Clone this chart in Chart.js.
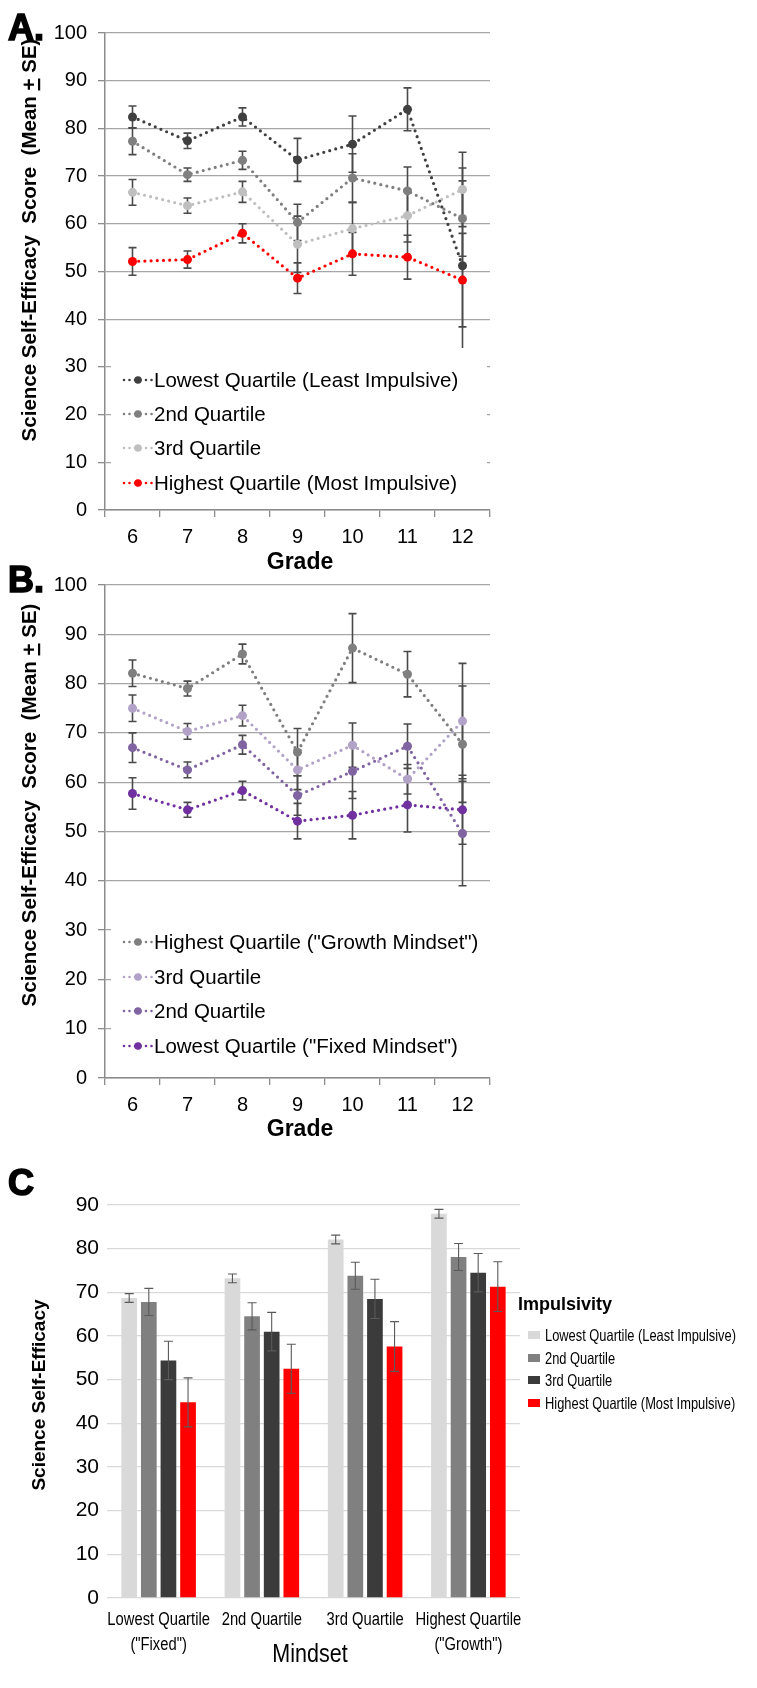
<!DOCTYPE html>
<html>
<head>
<meta charset="utf-8">
<script src="https://cdn.jsdelivr.net/npm/chart.js@4.4.1/dist/chart.umd.min.js"></script>
<style>
  body { margin: 0; background: #fff; width: 757px; height: 1688px; overflow: hidden; }
  .panel { position: absolute; left: 0; }
</style>
</head>
<body>
<div class="panel" style="top:0px"><canvas id="chartA" width="757" height="580"></canvas></div>
<div class="panel" style="top:550px"><canvas id="chartB" width="757" height="600"></canvas></div>
<div class="panel" style="top:1140px"><canvas id="chartC" width="757" height="548"></canvas></div>
<script>
// ---- data ----
const grades = ['6', '7', '8', '9', '10', '11', '12'];

// A: science self-efficacy by impulsivity quartile
const impulsLabels = ['Lowest Quartile (Least Impulsive)', '2nd Quartile', '3rd Quartile', 'Highest Quartile (Most Impulsive)'];
const impulsLowest = [82.4, 77.4, 82.4, 73.4, 76.7, 84.0, 51.2];
const impulsLowestSE = [2.3, 1.6, 1.9, 4.5, 5.9, 4.5, 20.5];
const impuls2nd = [77.3, 70.3, 73.3, 60.3, 69.6, 66.9, 61.1];
const impuls2ndSE = [2.8, 1.4, 1.9, 3.8, 5.1, 5.0, 7.9];
const impuls3rd = [66.6, 63.8, 66.7, 55.7, 59.0, 61.7, 67.2];
const impuls3rdSE = [2.7, 1.6, 2.2, 5.9, 5.5, 5.5, 7.8];
const impulsHighest = [52.1, 52.5, 58.0, 48.6, 53.7, 53.0, 48.2];
const impulsHighestSE = [2.9, 1.8, 2.0, 3.2, 4.5, 4.6, 9.8];

// B: science self-efficacy by mindset quartile
const mindsetLabels = ['Highest Quartile ("Growth Mindset")', '3rd Quartile', '2nd Quartile', 'Lowest Quartile ("Fixed Mindset")'];
const mindHighest = [82.1, 79.0, 86.0, 66.1, 87.2, 81.9, 67.7];
const mindHighestSE = [2.7, 1.5, 2.0, 4.8, 7.0, 4.6, 11.8];
const mind3rd = [75.0, 70.3, 73.5, 62.5, 67.5, 60.6, 72.4];
const mind3rdSE = [2.7, 1.6, 2.1, 4.0, 4.5, 3.0, 11.7];
const mind2nd = [67.0, 62.5, 67.6, 57.3, 62.2, 67.3, 49.6];
const mind2ndSE = [3.0, 1.6, 1.9, 4.0, 5.5, 4.5, 10.6];
const mindLowest = [57.7, 54.4, 58.3, 52.1, 53.3, 55.4, 54.4];
const mindLowestSE = [3.2, 1.5, 1.9, 3.6, 4.8, 5.5, 7.0];

// C: mindset group x impulsivity quartile
const mindsetGroups = [['Lowest Quartile', '("Fixed")'], '2nd Quartile', '3rd Quartile', ['Highest Quartile', '("Growth")']];
const barLowest = [68.7, 73.2, 82.1, 88.0];
const barLowestSE = [1.0, 1.0, 1.0, 1.0];
const bar2nd = [67.8, 64.5, 73.8, 78.1];
const bar2ndSE = [3.1, 3.1, 3.1, 3.1];
const bar3rd = [54.4, 61.0, 68.5, 74.5];
const bar3rdSE = [4.4, 4.4, 4.5, 4.4];
const barHighest = [44.8, 52.5, 57.6, 71.3];
const barHighestSE = [5.6, 5.6, 5.7, 5.7];

const greyLines = ['#404040', '#7f7f7f', '#bfbfbf', '#ff0000'];
const purpleLines = ['#7f7f7f', '#b3a2c7', '#8064a2', '#7030a0'];
const barColours = ['#d9d9d9', '#808080', '#3b3b3b', '#ff0000'];

const SANS = "'Liberation Sans', Arial, sans-serif";
const Y_TITLE = 'Science Self-Efficacy  Score  (Mean + SE)';

// ---- helpers ----
function drawErrors(chart, opts) {
    const ctx = chart.ctx;
    const y = chart.scales.y;
    ctx.save();
    ctx.strokeStyle = opts.color;
    ctx.lineWidth = opts.width;
    chart.data.datasets.forEach((ds, i) => {
        const se = opts.errors[i];
        chart.getDatasetMeta(i).data.forEach((el, j) => {
            const x = el.x;
            const top = y.getPixelForValue(ds.data[j] + se[j]);
            const bot = y.getPixelForValue(ds.data[j] - se[j]);
            ctx.beginPath();
            ctx.moveTo(x, top); ctx.lineTo(x, bot);
            ctx.moveTo(x - opts.cap, top); ctx.lineTo(x + opts.cap, top);
            ctx.moveTo(x - opts.cap, bot); ctx.lineTo(x + opts.cap, bot);
            ctx.stroke();
        });
    });
    ctx.restore();
}

const errorBarPlugin = {
    id: 'errbars',
    beforeDatasetsDraw(chart, args, opts) { if (!opts.onTop) drawErrors(chart, opts); },
    afterDatasetsDraw(chart, args, opts) { if (opts.onTop) drawErrors(chart, opts); }
};

function drawLetter(ctx, letter, x, y) {
    ctx.save();
    ctx.font = `bold 36px ${SANS}`;
    ctx.fillStyle = '#000';
    ctx.strokeStyle = '#000';
    ctx.lineWidth = 1.6;
    ctx.fillText(letter, x, y);
    ctx.strokeText(letter, x, y);
    ctx.restore();
}

// rotated axis title, optional underline under one character (the "+" of ±)
function drawYTitle(ctx, text, cx, cy, font, underlineChar) {
    ctx.save();
    ctx.translate(cx, cy);
    ctx.rotate(-Math.PI / 2);
    ctx.font = font;
    ctx.fillStyle = '#000';
    ctx.textAlign = 'left';
    ctx.textBaseline = 'middle';
    const w = ctx.measureText(text).width;
    ctx.fillText(text, -w / 2, 0);
    if (underlineChar) {
        const idx = text.indexOf(underlineChar);
        const x0 = -w / 2 + ctx.measureText(text.slice(0, idx)).width;
        const cw = ctx.measureText(underlineChar).width;
        ctx.fillRect(x0, 8, cw, 2.2);
    }
    ctx.restore();
}

// text with optional horizontal squeeze (stands in for a narrow face)
function drawText(ctx, text, x, y, font, squeeze, align) {
    ctx.save();
    ctx.translate(x, y);
    ctx.scale(squeeze, 1);
    ctx.font = font;
    ctx.fillStyle = '#000';
    ctx.textAlign = align;
    ctx.textBaseline = 'middle';
    ctx.fillText(text, 0, 0);
    ctx.restore();
}

function drawLineLegend(chart, box, rows, labels) {
    const ctx = chart.ctx;
    ctx.save();
    ctx.fillStyle = '#fff';
    ctx.fillRect(box[0], box[1], box[2] - box[0], box[3] - box[1]);
    chart.data.datasets.forEach((ds, i) => {
        const yy = rows[i];
        ctx.strokeStyle = ds.borderColor;
        ctx.lineWidth = 2.6;
        ctx.lineCap = 'round';
        ctx.setLineDash([0, 5.5]);
        ctx.beginPath();
        ctx.moveTo(124, yy);
        ctx.lineTo(152, yy);
        ctx.stroke();
        ctx.setLineDash([]);
        ctx.fillStyle = ds.borderColor;
        ctx.beginPath();
        ctx.arc(138, yy, 3.8, 0, Math.PI * 2);
        ctx.fill();
    });
    ctx.restore();
    labels.forEach((t, i) => drawText(ctx, t, 154, rows[i] + 1, `20.5px ${SANS}`, 1, 'left'));
}

function lineDataset(label, data, colour) {
    return {
        label: label,
        data: data,
        borderColor: colour,
        backgroundColor: colour,
        borderWidth: 3.2,
        borderDash: [0, 6.2],
        borderCapStyle: 'round',
        pointRadius: 4.5,
        pointBorderWidth: 0,
        pointBackgroundColor: colour,
        tension: 0
    };
}

function lineScales(xHeight) {
    return {
        x: {
            offset: true,
            grid: { display: true, drawOnChartArea: false, offset: true, tickLength: 7, color: '#8c8c8c', lineWidth: 1.3 },
            border: { display: true, color: '#8c8c8c', width: 1.5 },
            ticks: { font: { family: SANS, size: 20 }, color: '#000', padding: 8, maxRotation: 0 },
            afterFit: s => { s.height = xHeight; }
        },
        y: {
            min: 0, max: 100,
            ticks: { stepSize: 10, font: { family: SANS, size: 20 }, color: '#000', padding: 11 },
            grid: { color: '#a6a6a6', lineWidth: 1.3, tickLength: 7, tickColor: '#8c8c8c' },
            border: { display: true, color: '#8c8c8c', width: 1.5 },
            afterFit: s => { s.width = 105; }
        }
    };
}

const commonOpts = {
    responsive: false,
    animation: false,
    devicePixelRatio: 1,
    events: []
};

// ---- panel A ----
new Chart(document.getElementById('chartA'), {
    type: 'line',
    data: {
        labels: grades,
        datasets: [
            lineDataset(impulsLabels[0], impulsLowest, greyLines[0]),
            lineDataset(impulsLabels[1], impuls2nd, greyLines[1]),
            lineDataset(impulsLabels[2], impuls3rd, greyLines[2]),
            lineDataset(impulsLabels[3], impulsHighest, greyLines[3])
        ]
    },
    options: {
        ...commonOpts,
        layout: { padding: { top: 33, right: 267, bottom: 0, left: 0 } },
        scales: lineScales(70),
        plugins: {
            legend: { display: false },
            tooltip: { enabled: false },
            errbars: { errors: [impulsLowestSE, impuls2ndSE, impuls3rdSE, impulsHighestSE], color: '#4a4a4a', width: 1.6, cap: 4, onTop: false }
        }
    },
    plugins: [errorBarPlugin, {
        id: 'decorA',
        beforeDatasetsDraw(chart) {
            drawLineLegend(chart, [111, 348, 487, 503], [380, 414, 448, 483], impulsLabels);
        },
        afterDraw(chart) {
            const ctx = chart.ctx;
            drawLetter(ctx, 'A.', 8, 40);
            drawYTitle(ctx, Y_TITLE, 30, 240, `bold 20.5px ${SANS}`, '+');
            drawText(ctx, 'Grade', 300, 563, `bold 23px ${SANS}`, 1, 'center');
        }
    }]
});

// ---- panel B ----
new Chart(document.getElementById('chartB'), {
    type: 'line',
    data: {
        labels: grades,
        datasets: [
            lineDataset(mindsetLabels[0], mindHighest, purpleLines[0]),
            lineDataset(mindsetLabels[1], mind3rd, purpleLines[1]),
            lineDataset(mindsetLabels[2], mind2nd, purpleLines[2]),
            lineDataset(mindsetLabels[3], mindLowest, purpleLines[3])
        ]
    },
    options: {
        ...commonOpts,
        layout: { padding: { top: 35, right: 267, bottom: 0, left: 0 } },
        scales: lineScales(72),
        plugins: {
            legend: { display: false },
            tooltip: { enabled: false },
            errbars: { errors: [mindHighestSE, mind3rdSE, mind2ndSE, mindLowestSE], color: '#4a4a4a', width: 1.6, cap: 4, onTop: false }
        }
    },
    plugins: [errorBarPlugin, {
        id: 'decorB',
        beforeDatasetsDraw(chart) {
            drawLineLegend(chart, [111, 352, 493, 513], [392, 427, 461, 496], mindsetLabels);
        },
        afterDraw(chart) {
            const ctx = chart.ctx;
            drawLetter(ctx, 'B.', 8, 42);
            drawYTitle(ctx, Y_TITLE, 30, 255, `bold 20.5px ${SANS}`, '+');
            drawText(ctx, 'Grade', 300, 580, `bold 23px ${SANS}`, 1, 'center');
        }
    }]
});

// ---- panel C ----
new Chart(document.getElementById('chartC'), {
    type: 'bar',
    data: {
        labels: mindsetGroups,
        datasets: [
            { label: impulsLabels[0], data: barLowest, backgroundColor: barColours[0] },
            { label: impulsLabels[1], data: bar2nd, backgroundColor: barColours[1] },
            { label: impulsLabels[2], data: bar3rd, backgroundColor: barColours[2] },
            { label: impulsLabels[3], data: barHighest, backgroundColor: barColours[3] }
        ]
    },
    options: {
        ...commonOpts,
        layout: { padding: { top: 65, right: 237, bottom: 0, left: 0 } },
        datasets: { bar: { categoryPercentage: 0.76, barPercentage: 0.8 } },
        scales: {
            x: {
                grid: { display: false },
                border: { display: false },
                ticks: { display: false },
                afterFit: s => { s.height = 90; }
            },
            y: {
                min: 0, max: 90,
                ticks: { stepSize: 10, font: { family: SANS, size: 21 }, color: '#000', padding: 8 },
                grid: { color: '#d9d9d9', lineWidth: 1.3, drawTicks: false },
                border: { display: false },
                afterFit: s => { s.width = 107; }
            }
        },
        plugins: {
            legend: { display: false },
            tooltip: { enabled: false },
            errbars: { errors: [barLowestSE, bar2ndSE, bar3rdSE, barHighestSE], color: '#5a5a5a', width: 1.1, cap: 4.5, onTop: true }
        }
    },
    plugins: [errorBarPlugin, {
        id: 'decorC',
        afterDraw(chart) {
            const ctx = chart.ctx;
            const xs = chart.scales.x;
            drawLetter(ctx, 'C', 8, 55);
            drawYTitle(ctx, 'Science Self-Efficacy', 40, 255, `bold 19px ${SANS}`, null);
            // category labels, one or two lines each
            mindsetGroups.forEach((lab, i) => {
                const lines = Array.isArray(lab) ? lab : [lab];
                lines.forEach((t, k) => drawText(ctx, t, xs.getPixelForValue(i), 480 + k * 25, `18px ${SANS}`, 0.82, 'center'));
            });
            drawText(ctx, 'Mindset', 310, 515, `25px ${SANS}`, 0.86, 'center');
            // impulsivity legend
            drawText(ctx, 'Impulsivity', 565, 165, `bold 18px ${SANS}`, 1, 'center');
            const rows = [195, 218, 240, 263];
            chart.data.datasets.forEach((ds, i) => {
                ctx.fillStyle = ds.backgroundColor;
                ctx.fillRect(528, rows[i] - 4, 12, 8);
                drawText(ctx, ds.label, 545, rows[i] + 1, `16.5px ${SANS}`, 0.78, 'left');
            });
        }
    }]
});
</script>
</body>
</html>
